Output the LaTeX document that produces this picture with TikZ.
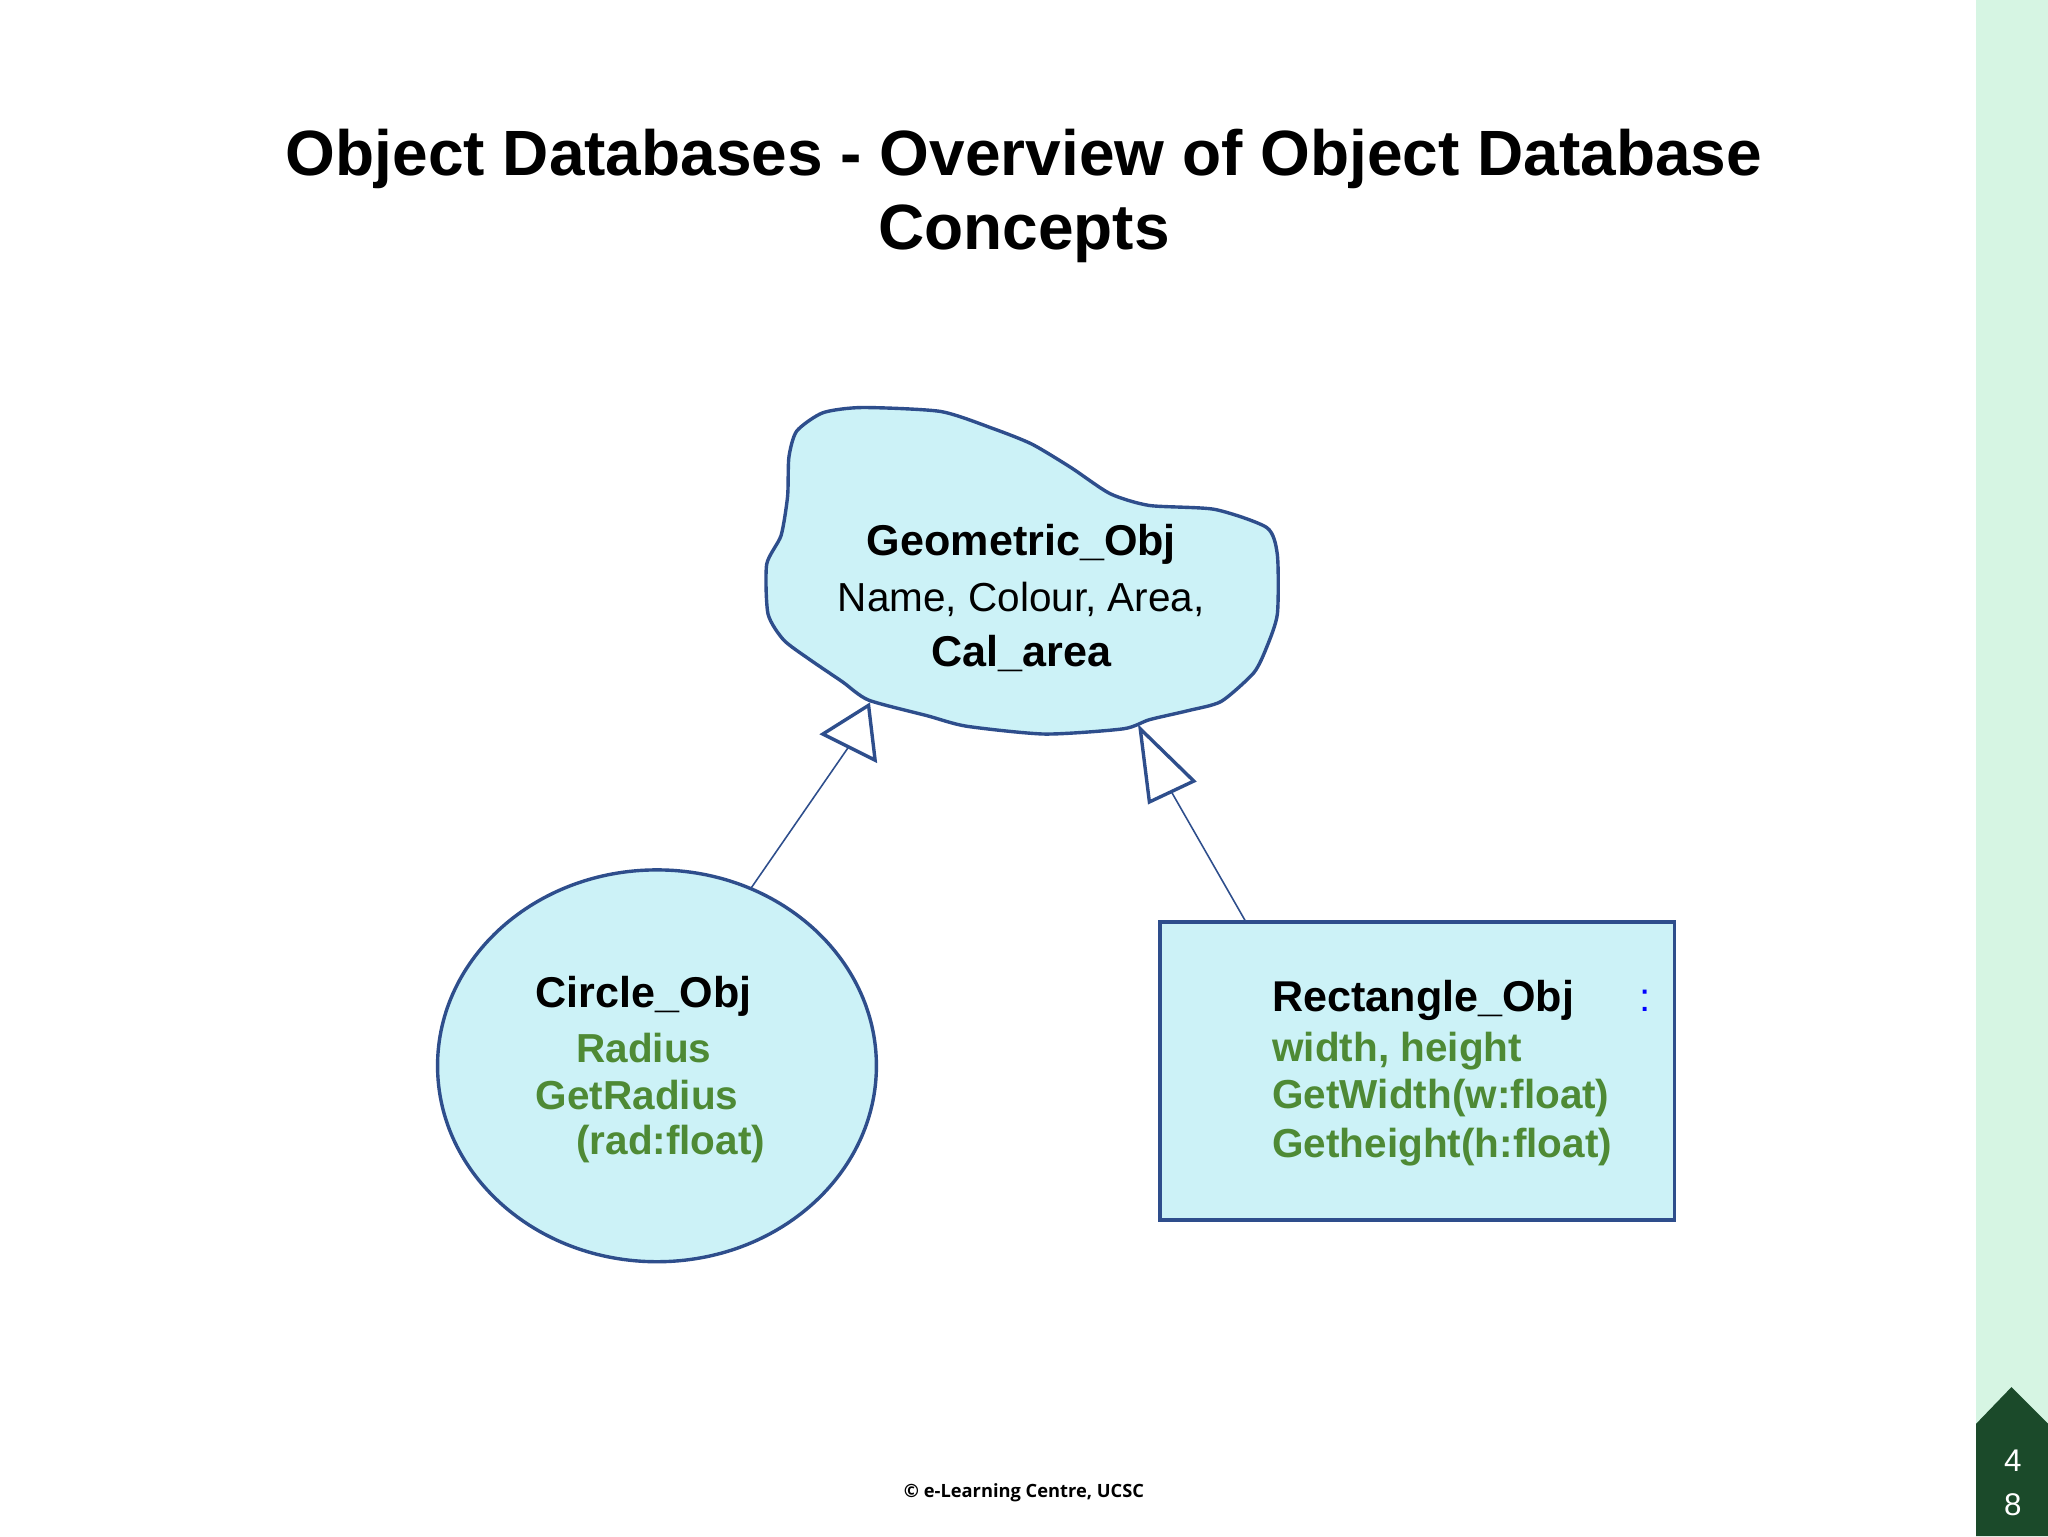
\documentclass[tikz,border=0pt]{standalone}
\usetikzlibrary{shapes.geometric}
\usepackage{fontspec}
\setmainfont{Liberation Sans}
\newfontfamily\footfont{Open Sans}
\definecolor{fillc}{HTML}{CCF2F7}
\definecolor{edgec}{HTML}{2E4E8C}
\definecolor{greent}{HTML}{4E8A35}
\definecolor{stripc}{HTML}{D6F5E3}
\definecolor{darkg}{HTML}{1B4A2A}
\begin{document}
\begin{tikzpicture}[x=1pt,y=-1pt,
  shapeline/.style={draw=edgec,line width=2.6pt,fill=fillc},
  txt/.style={font=\fontsize{31}{36}\selectfont,inner sep=0pt},
  gtxt/.style={txt,text=greent,font=\fontsize{31}{36}\selectfont\bfseries,anchor=west},
  btxt/.style={txt,font=\fontsize{33}{38}\selectfont\bfseries},
  conn/.style={draw=edgec,line width=1.2pt},
  tri/.style={draw=edgec,line width=2.6pt,fill=white,line join=miter}]
\path[fill=white] (0,0) rectangle (1568,1176);
\path[fill=stripc] (1513,0) rectangle (1568,1176);
\path[fill=darkg] (1513,1176) -- (1513,1090) -- (1540,1062) -- (1568,1090) -- (1568,1176) -- cycle;
\node[text=white,font=\fontsize{24}{28}\selectfont] (p4) at (1541,1118) {4};
\node[text=white,font=\fontsize{24}{28}\selectfont] (p8) at (1541,1152) {8};
\node[font=\fontsize{49}{56}\selectfont\bfseries,align=center] (title) at (784,150) {Object Databases - Overview of Object Database\\Concepts};
\node[font=\footfont\fontsize{14}{16}\selectfont\bfseries] (foot) at (784,1143) {© e-Learning Centre, UCSC};
% cloud
\path[shapeline] plot[smooth cycle,tension=0.4] coordinates {(610,330)(604,350)(603,380)(598,410)(587,432)(588,470)(600,490)(620,505)(645,522)(665,536)(710,548)(740,556)(800,562)(860,558)(880,551)(910,544)(935,537)(960,515)(970,495)(978,470)(978,425)(970,404)(930,390)(880,387)(850,378)(820,358)(790,340)(760,328)(720,315)(660,312)(630,316)};
\coordinate (cl) at (651,570);
\coordinate (cr) at (895,603);
\node[btxt] (g1) at (782,417) {Geometric\_Obj};
\node[txt] (g2) at (782,459) {Name, Colour, Area,};
\node[btxt] (g3) at (782,500) {Cal\_area};
% circle
\node[shapeline,ellipse,minimum width=336pt,minimum height=300pt,inner sep=0pt] (circ) at (503,816) {};
\draw[shapeline] (888,706) rectangle (1282,934);
\coordinate (rect) at (954,706);
\node[btxt,anchor=west] (c1) at (410,763) {Circle\_Obj};
\node[gtxt] (c2) at (441,802) {Radius};
\node[gtxt] (c3) at (410,838) {GetRadius};
\node[gtxt] (c4) at (441,876) {(rad:float)};
\node[btxt,anchor=west] (r1) at (974,766) {Rectangle\_Obj};
\node[txt,text=blue,anchor=west] (r0) at (1255,766) {:};
\node[gtxt] (r2) at (974,805) {width, height};
\node[gtxt] (r3) at (974,841) {GetWidth(w:float)};
\node[gtxt] (r4) at (974,878) {Getheight(h:float)};
% connectors
\coordinate (ct) at (575,680);
\draw[conn] (ct) -- (cl);
\draw[conn] (rect) -- (cr);
\draw[tri] (630,562) -- (665,540) -- (670,582) -- cycle;
\draw[tri] (873,558) -- (914,598) -- (880,614) -- cycle;
\end{tikzpicture}
\end{document}
